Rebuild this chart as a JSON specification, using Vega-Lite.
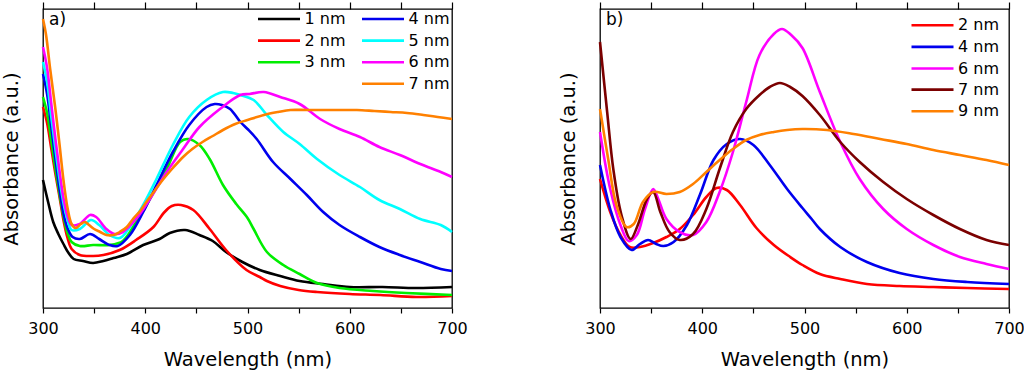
{
  "$schema": "https://vega.github.io/schema/vega-lite/v6.json",
  "padding": 0,
  "autosize": {"type": "pad"},
  "spacing": 89,
  "config": {
    "view": {"stroke": "#000", "strokeWidth": 1.3},
    "font": "DejaVu Sans",
    "axis": {"grid": false, "domain": false, "tickColor": "#000", "tickWidth": 1.2, "labelColor": "#000", "titleColor": "#000", "labelFont": "DejaVu Sans", "titleFont": "DejaVu Sans", "titleFontWeight": "normal", "labelFontSize": 16, "titleFontSize": 19.5},
    "legend": {"symbolType": "stroke", "symbolSize": 1764, "symbolStrokeWidth": 3, "clipHeight": 16, "rowPadding": 5.6, "labelFontSize": 16, "labelFont": "DejaVu Sans", "labelColor": "#000", "labelOffset": 3, "padding": 0, "orient": "none"},
    "line": {"strokeWidth": 2.6, "interpolate": "catmull-rom", "clip": true}
  },
  "datasets": {
    "a": [
      {"s":"1 nm","w":300,"a":128},{"s":"1 nm","w":305,"a":106},{"s":"1 nm","w":310,"a":86},{"s":"1 nm","w":315,"a":74},{"s":"1 nm","w":320,"a":64},{"s":"1 nm","w":325,"a":55},{"s":"1 nm","w":330,"a":49},{"s":"1 nm","w":339,"a":47},{"s":"1 nm","w":349,"a":45},{"s":"1 nm","w":359,"a":47},{"s":"1 nm","w":369,"a":50},{"s":"1 nm","w":382,"a":54},{"s":"1 nm","w":398,"a":63},{"s":"1 nm","w":414,"a":69},{"s":"1 nm","w":424,"a":75},{"s":"1 nm","w":439,"a":78},{"s":"1 nm","w":453,"a":73},{"s":"1 nm","w":466,"a":67},{"s":"1 nm","w":479,"a":56},{"s":"1 nm","w":495,"a":46},{"s":"1 nm","w":512,"a":38},{"s":"1 nm","w":532,"a":32},{"s":"1 nm","w":551,"a":27},{"s":"1 nm","w":574,"a":24},{"s":"1 nm","w":600,"a":21},{"s":"1 nm","w":632,"a":21},{"s":"1 nm","w":665,"a":20},{"s":"1 nm","w":700,"a":21},
      {"s":"2 nm","w":300,"a":201},{"s":"2 nm","w":304,"a":185},{"s":"2 nm","w":308,"a":160},{"s":"2 nm","w":312,"a":135},{"s":"2 nm","w":316,"a":112},{"s":"2 nm","w":320,"a":88},{"s":"2 nm","w":324,"a":70},{"s":"2 nm","w":328,"a":59},{"s":"2 nm","w":336,"a":53},{"s":"2 nm","w":349,"a":52},{"s":"2 nm","w":359,"a":53},{"s":"2 nm","w":375,"a":58},{"s":"2 nm","w":391,"a":68},{"s":"2 nm","w":408,"a":81},{"s":"2 nm","w":418,"a":95},{"s":"2 nm","w":426,"a":102},{"s":"2 nm","w":435,"a":103},{"s":"2 nm","w":447,"a":98},{"s":"2 nm","w":463,"a":79},{"s":"2 nm","w":479,"a":58},{"s":"2 nm","w":499,"a":38},{"s":"2 nm","w":512,"a":31},{"s":"2 nm","w":519,"a":27},{"s":"2 nm","w":532,"a":22},{"s":"2 nm","w":550,"a":18},{"s":"2 nm","w":568,"a":16},{"s":"2 nm","w":600,"a":14},{"s":"2 nm","w":630,"a":13},{"s":"2 nm","w":665,"a":11},{"s":"2 nm","w":700,"a":12},
      {"s":"3 nm","w":300,"a":211},{"s":"3 nm","w":304,"a":195},{"s":"3 nm","w":308,"a":168},{"s":"3 nm","w":312,"a":140},{"s":"3 nm","w":316,"a":115},{"s":"3 nm","w":320,"a":92},{"s":"3 nm","w":324,"a":75},{"s":"3 nm","w":328,"a":66},{"s":"3 nm","w":336,"a":62},{"s":"3 nm","w":349,"a":63},{"s":"3 nm","w":365,"a":63},{"s":"3 nm","w":378,"a":67},{"s":"3 nm","w":391,"a":86},{"s":"3 nm","w":404,"a":108},{"s":"3 nm","w":421,"a":139},{"s":"3 nm","w":434,"a":166},{"s":"3 nm","w":442,"a":169},{"s":"3 nm","w":453,"a":163},{"s":"3 nm","w":463,"a":149},{"s":"3 nm","w":476,"a":123},{"s":"3 nm","w":489,"a":104},{"s":"3 nm","w":500,"a":90},{"s":"3 nm","w":506,"a":79},{"s":"3 nm","w":519,"a":56},{"s":"3 nm","w":535,"a":43},{"s":"3 nm","w":551,"a":34},{"s":"3 nm","w":568,"a":25},{"s":"3 nm","w":590,"a":20},{"s":"3 nm","w":623,"a":17},{"s":"3 nm","w":655,"a":15},{"s":"3 nm","w":700,"a":13},
      {"s":"4 nm","w":300,"a":234},{"s":"4 nm","w":304,"a":214},{"s":"4 nm","w":308,"a":182},{"s":"4 nm","w":312,"a":150},{"s":"4 nm","w":316,"a":120},{"s":"4 nm","w":320,"a":95},{"s":"4 nm","w":324,"a":80},{"s":"4 nm","w":329,"a":71},{"s":"4 nm","w":336,"a":69},{"s":"4 nm","w":346,"a":74},{"s":"4 nm","w":355,"a":69},{"s":"4 nm","w":365,"a":63},{"s":"4 nm","w":373,"a":62},{"s":"4 nm","w":385,"a":73},{"s":"4 nm","w":398,"a":96},{"s":"4 nm","w":411,"a":123},{"s":"4 nm","w":427,"a":156},{"s":"4 nm","w":443,"a":183},{"s":"4 nm","w":460,"a":201},{"s":"4 nm","w":468,"a":204},{"s":"4 nm","w":475,"a":203},{"s":"4 nm","w":483,"a":199},{"s":"4 nm","w":493,"a":186},{"s":"4 nm","w":500,"a":179},{"s":"4 nm","w":509,"a":169},{"s":"4 nm","w":525,"a":146},{"s":"4 nm","w":542,"a":129},{"s":"4 nm","w":558,"a":113},{"s":"4 nm","w":574,"a":96},{"s":"4 nm","w":590,"a":83},{"s":"4 nm","w":610,"a":71},{"s":"4 nm","w":629,"a":61},{"s":"4 nm","w":649,"a":53},{"s":"4 nm","w":669,"a":46},{"s":"4 nm","w":689,"a":39},{"s":"4 nm","w":700,"a":37},
      {"s":"5 nm","w":300,"a":246},{"s":"5 nm","w":304,"a":226},{"s":"5 nm","w":308,"a":192},{"s":"5 nm","w":312,"a":160},{"s":"5 nm","w":316,"a":130},{"s":"5 nm","w":320,"a":105},{"s":"5 nm","w":324,"a":88},{"s":"5 nm","w":328,"a":78},{"s":"5 nm","w":336,"a":79},{"s":"5 nm","w":347,"a":88},{"s":"5 nm","w":355,"a":83},{"s":"5 nm","w":365,"a":73},{"s":"5 nm","w":375,"a":70},{"s":"5 nm","w":385,"a":81},{"s":"5 nm","w":398,"a":103},{"s":"5 nm","w":411,"a":129},{"s":"5 nm","w":427,"a":163},{"s":"5 nm","w":443,"a":191},{"s":"5 nm","w":460,"a":208},{"s":"5 nm","w":476,"a":216},{"s":"5 nm","w":486,"a":215},{"s":"5 nm","w":493,"a":213},{"s":"5 nm","w":506,"a":208},{"s":"5 nm","w":519,"a":193},{"s":"5 nm","w":535,"a":176},{"s":"5 nm","w":551,"a":164},{"s":"5 nm","w":568,"a":149},{"s":"5 nm","w":590,"a":133},{"s":"5 nm","w":610,"a":121},{"s":"5 nm","w":629,"a":108},{"s":"5 nm","w":649,"a":99},{"s":"5 nm","w":669,"a":89},{"s":"5 nm","w":689,"a":83},{"s":"5 nm","w":700,"a":76},
      {"s":"6 nm","w":300,"a":261},{"s":"6 nm","w":304,"a":240},{"s":"6 nm","w":308,"a":205},{"s":"6 nm","w":312,"a":170},{"s":"6 nm","w":316,"a":138},{"s":"6 nm","w":320,"a":110},{"s":"6 nm","w":324,"a":92},{"s":"6 nm","w":328,"a":83},{"s":"6 nm","w":336,"a":84},{"s":"6 nm","w":346,"a":93},{"s":"6 nm","w":352,"a":91},{"s":"6 nm","w":362,"a":79},{"s":"6 nm","w":370,"a":74},{"s":"6 nm","w":378,"a":76},{"s":"6 nm","w":391,"a":89},{"s":"6 nm","w":404,"a":108},{"s":"6 nm","w":421,"a":136},{"s":"6 nm","w":437,"a":159},{"s":"6 nm","w":453,"a":181},{"s":"6 nm","w":473,"a":199},{"s":"6 nm","w":493,"a":213},{"s":"6 nm","w":502,"a":214},{"s":"6 nm","w":516,"a":216},{"s":"6 nm","w":532,"a":211},{"s":"6 nm","w":551,"a":204},{"s":"6 nm","w":571,"a":189},{"s":"6 nm","w":590,"a":179},{"s":"6 nm","w":610,"a":171},{"s":"6 nm","w":629,"a":161},{"s":"6 nm","w":649,"a":153},{"s":"6 nm","w":669,"a":144},{"s":"6 nm","w":689,"a":136},{"s":"6 nm","w":700,"a":131},
      {"s":"7 nm","w":300,"a":289},{"s":"7 nm","w":303,"a":273},{"s":"7 nm","w":307,"a":239},{"s":"7 nm","w":312,"a":200},{"s":"7 nm","w":316,"a":165},{"s":"7 nm","w":320,"a":128},{"s":"7 nm","w":324,"a":100},{"s":"7 nm","w":328,"a":84},{"s":"7 nm","w":332,"a":80},{"s":"7 nm","w":337,"a":84},{"s":"7 nm","w":341,"a":86},{"s":"7 nm","w":345,"a":83},{"s":"7 nm","w":350,"a":79},{"s":"7 nm","w":356,"a":76},{"s":"7 nm","w":362,"a":73},{"s":"7 nm","w":369,"a":73},{"s":"7 nm","w":375,"a":76},{"s":"7 nm","w":382,"a":81},{"s":"7 nm","w":388,"a":89},{"s":"7 nm","w":395,"a":97},{"s":"7 nm","w":401,"a":106},{"s":"7 nm","w":409,"a":117},{"s":"7 nm","w":417,"a":128},{"s":"7 nm","w":427,"a":140},{"s":"7 nm","w":437,"a":151},{"s":"7 nm","w":446,"a":159},{"s":"7 nm","w":456,"a":166},{"s":"7 nm","w":466,"a":172},{"s":"7 nm","w":476,"a":178},{"s":"7 nm","w":488,"a":184},{"s":"7 nm","w":500,"a":188},{"s":"7 nm","w":516,"a":193},{"s":"7 nm","w":530,"a":196},{"s":"7 nm","w":542,"a":198},{"s":"7 nm","w":558,"a":198},{"s":"7 nm","w":574,"a":198},{"s":"7 nm","w":590,"a":198},{"s":"7 nm","w":607,"a":198},{"s":"7 nm","w":624,"a":197},{"s":"7 nm","w":640,"a":196},{"s":"7 nm","w":656,"a":195},{"s":"7 nm","w":672,"a":193},{"s":"7 nm","w":686,"a":191},{"s":"7 nm","w":700,"a":189}
    ],
    "b": [
      {"s":"2 nm","w":300,"a":129},{"s":"2 nm","w":310,"a":96},{"s":"2 nm","w":320,"a":73},{"s":"2 nm","w":329,"a":61},{"s":"2 nm","w":339,"a":61},{"s":"2 nm","w":352,"a":65},{"s":"2 nm","w":365,"a":71},{"s":"2 nm","w":378,"a":79},{"s":"2 nm","w":391,"a":93},{"s":"2 nm","w":404,"a":111},{"s":"2 nm","w":414,"a":120},{"s":"2 nm","w":424,"a":118},{"s":"2 nm","w":437,"a":103},{"s":"2 nm","w":453,"a":80},{"s":"2 nm","w":470,"a":63},{"s":"2 nm","w":486,"a":51},{"s":"2 nm","w":498,"a":43},{"s":"2 nm","w":515,"a":34},{"s":"2 nm","w":535,"a":29},{"s":"2 nm","w":561,"a":24},{"s":"2 nm","w":593,"a":22},{"s":"2 nm","w":626,"a":21},{"s":"2 nm","w":659,"a":20},{"s":"2 nm","w":700,"a":19},
      {"s":"4 nm","w":300,"a":143},{"s":"4 nm","w":310,"a":99},{"s":"4 nm","w":320,"a":71},{"s":"4 nm","w":331,"a":58},{"s":"4 nm","w":339,"a":64},{"s":"4 nm","w":347,"a":68},{"s":"4 nm","w":355,"a":64},{"s":"4 nm","w":362,"a":62},{"s":"4 nm","w":372,"a":66},{"s":"4 nm","w":385,"a":83},{"s":"4 nm","w":398,"a":114},{"s":"4 nm","w":411,"a":148},{"s":"4 nm","w":424,"a":164},{"s":"4 nm","w":437,"a":169},{"s":"4 nm","w":450,"a":163},{"s":"4 nm","w":466,"a":143},{"s":"4 nm","w":483,"a":119},{"s":"4 nm","w":498,"a":100},{"s":"4 nm","w":507,"a":89},{"s":"4 nm","w":515,"a":79},{"s":"4 nm","w":535,"a":61},{"s":"4 nm","w":561,"a":46},{"s":"4 nm","w":593,"a":35},{"s":"4 nm","w":626,"a":29},{"s":"4 nm","w":659,"a":26},{"s":"4 nm","w":700,"a":24},
      {"s":"6 nm","w":300,"a":176},{"s":"6 nm","w":310,"a":119},{"s":"6 nm","w":320,"a":83},{"s":"6 nm","w":328,"a":67},{"s":"6 nm","w":336,"a":73},{"s":"6 nm","w":344,"a":99},{"s":"6 nm","w":352,"a":119},{"s":"6 nm","w":357,"a":109},{"s":"6 nm","w":365,"a":89},{"s":"6 nm","w":378,"a":76},{"s":"6 nm","w":391,"a":73},{"s":"6 nm","w":404,"a":86},{"s":"6 nm","w":417,"a":116},{"s":"6 nm","w":430,"a":156},{"s":"6 nm","w":443,"a":206},{"s":"6 nm","w":456,"a":253},{"s":"6 nm","w":470,"a":274},{"s":"6 nm","w":478,"a":279},{"s":"6 nm","w":487,"a":273},{"s":"6 nm","w":498,"a":260},{"s":"6 nm","w":515,"a":216},{"s":"6 nm","w":535,"a":166},{"s":"6 nm","w":554,"a":129},{"s":"6 nm","w":577,"a":99},{"s":"6 nm","w":600,"a":79},{"s":"6 nm","w":626,"a":63},{"s":"6 nm","w":652,"a":51},{"s":"6 nm","w":678,"a":44},{"s":"6 nm","w":700,"a":39},
      {"s":"7 nm","w":300,"a":266},{"s":"7 nm","w":307,"a":196},{"s":"7 nm","w":313,"a":139},{"s":"7 nm","w":321,"a":93},{"s":"7 nm","w":330,"a":69},{"s":"7 nm","w":337,"a":83},{"s":"7 nm","w":346,"a":109},{"s":"7 nm","w":352,"a":116},{"s":"7 nm","w":359,"a":96},{"s":"7 nm","w":368,"a":76},{"s":"7 nm","w":378,"a":68},{"s":"7 nm","w":391,"a":74},{"s":"7 nm","w":404,"a":99},{"s":"7 nm","w":417,"a":139},{"s":"7 nm","w":430,"a":176},{"s":"7 nm","w":443,"a":199},{"s":"7 nm","w":456,"a":213},{"s":"7 nm","w":466,"a":221},{"s":"7 nm","w":476,"a":225},{"s":"7 nm","w":486,"a":221},{"s":"7 nm","w":498,"a":212},{"s":"7 nm","w":515,"a":193},{"s":"7 nm","w":535,"a":166},{"s":"7 nm","w":554,"a":146},{"s":"7 nm","w":577,"a":126},{"s":"7 nm","w":600,"a":109},{"s":"7 nm","w":626,"a":93},{"s":"7 nm","w":652,"a":79},{"s":"7 nm","w":678,"a":68},{"s":"7 nm","w":700,"a":63},
      {"s":"9 nm","w":300,"a":199},{"s":"9 nm","w":308,"a":149},{"s":"9 nm","w":316,"a":103},{"s":"9 nm","w":326,"a":81},{"s":"9 nm","w":333,"a":84},{"s":"9 nm","w":342,"a":106},{"s":"9 nm","w":352,"a":116},{"s":"9 nm","w":365,"a":114},{"s":"9 nm","w":378,"a":116},{"s":"9 nm","w":391,"a":124},{"s":"9 nm","w":404,"a":136},{"s":"9 nm","w":417,"a":148},{"s":"9 nm","w":430,"a":159},{"s":"9 nm","w":443,"a":168},{"s":"9 nm","w":456,"a":173},{"s":"9 nm","w":470,"a":176},{"s":"9 nm","w":483,"a":178},{"s":"9 nm","w":498,"a":179},{"s":"9 nm","w":522,"a":178},{"s":"9 nm","w":548,"a":174},{"s":"9 nm","w":574,"a":169},{"s":"9 nm","w":600,"a":164},{"s":"9 nm","w":626,"a":158},{"s":"9 nm","w":652,"a":153},{"s":"9 nm","w":678,"a":148},{"s":"9 nm","w":700,"a":143}
    ]
  },
  "hconcat": [
    {
      "width": 409, "height": 299,
      "title": {"text": "a)", "anchor": "start", "frame": "group", "offset": -28, "dx": 6, "fontSize": 17, "fontWeight": "normal", "font": "DejaVu Sans", "color": "#000"},
      "data": {"name": "a"},
      "encoding": {
        "y": {"field": "a", "type": "quantitative", "scale": {"domain": [0, 299], "nice": false, "zero": false}, "axis": {"title": "Absorbance (a.u.)", "labels": false, "ticks": false, "titlePadding": 22}}
      },
      "layer": [
        {
          "transform": [{"filter": {"field": "s", "oneOf": ["1 nm", "2 nm", "3 nm"]}}],
          "mark": "line",
          "encoding": {
            "x": {"field": "w", "type": "quantitative", "scale": {"domain": [300, 700], "nice": false, "zero": false}, "axis": {"orient": "bottom", "title": "Wavelength (nm)", "values": [300, 350, 400, 450, 500, 550, 600, 650, 700], "labelExpr": "datum.value % 100 === 0 ? datum.label : ''", "labelFlush": false, "labelOverlap": false, "tickSize": 5, "labelPadding": 7.3, "titlePadding": 14.5}},
            "color": {"field": "s", "type": "nominal", "scale": {"domain": ["1 nm", "2 nm", "3 nm"], "range": ["#000000", "#ff0000", "#00ee00"]}, "legend": {"title": null, "legendX": 213.5, "legendY": 2}}
          }
        },
        {
          "transform": [{"filter": {"field": "s", "oneOf": ["4 nm", "5 nm", "6 nm", "7 nm"]}}],
          "mark": "line",
          "encoding": {
            "x": {"field": "w", "type": "quantitative", "scale": {"domain": [300, 700], "nice": false, "zero": false}, "axis": {"orient": "top", "title": null, "labels": false, "values": [300, 350, 400, 450, 500, 550, 600, 650, 700], "tickSize": 7}},
            "stroke": {"field": "s", "type": "nominal", "scale": {"domain": ["4 nm", "5 nm", "6 nm", "7 nm"], "range": ["#0000ee", "#00ffff", "#ff00ff", "#ff8000"]}, "legend": {"title": null, "legendX": 317.5, "legendY": 2}}
          }
        }
      ],
      "resolve": {"axis": {"x": "independent"}}
    },
    {
      "width": 409, "height": 299,
      "title": {"text": "b)", "anchor": "start", "frame": "group", "offset": -28, "dx": 6, "fontSize": 17, "fontWeight": "normal", "font": "DejaVu Sans", "color": "#000"},
      "data": {"name": "b"},
      "encoding": {
        "y": {"field": "a", "type": "quantitative", "scale": {"domain": [0, 299], "nice": false, "zero": false}, "axis": {"title": "Absorbance (a.u.)", "labels": false, "ticks": false, "titlePadding": 22}}
      },
      "layer": [
        {
          "transform": [{"filter": {"field": "s", "oneOf": ["2 nm", "4 nm", "6 nm"]}}],
          "mark": "line",
          "encoding": {
            "x": {"field": "w", "type": "quantitative", "scale": {"domain": [300, 700], "nice": false, "zero": false}, "axis": {"orient": "bottom", "title": "Wavelength (nm)", "values": [300, 350, 400, 450, 500, 550, 600, 650, 700], "labelExpr": "datum.value % 100 === 0 ? datum.label : ''", "labelFlush": false, "labelOverlap": false, "tickSize": 5, "labelPadding": 7.3, "titlePadding": 14.5}},
            "color": {"field": "s", "type": "nominal", "scale": {"domain": ["2 nm", "4 nm", "6 nm"], "range": ["#ff0000", "#0000ee", "#ff00ff"]}, "legend": {"title": null, "legendX": 310, "legendY": 8.3}}
          }
        },
        {
          "transform": [{"filter": {"field": "s", "oneOf": ["7 nm", "9 nm"]}}],
          "mark": "line",
          "encoding": {
            "x": {"field": "w", "type": "quantitative", "scale": {"domain": [300, 700], "nice": false, "zero": false}, "axis": {"orient": "top", "title": null, "labels": false, "values": [300, 350, 400, 450, 500, 550, 600, 650, 700], "tickSize": 7}},
            "stroke": {"field": "s", "type": "nominal", "scale": {"domain": ["7 nm", "9 nm"], "range": ["#7b0000", "#ff8000"]}, "legend": {"title": null, "legendX": 310, "legendY": 72.6}}
          }
        }
      ],
      "resolve": {"axis": {"x": "independent"}}
    }
  ],
  "resolve": {"scale": {"color": "independent", "stroke": "independent"}}
}
